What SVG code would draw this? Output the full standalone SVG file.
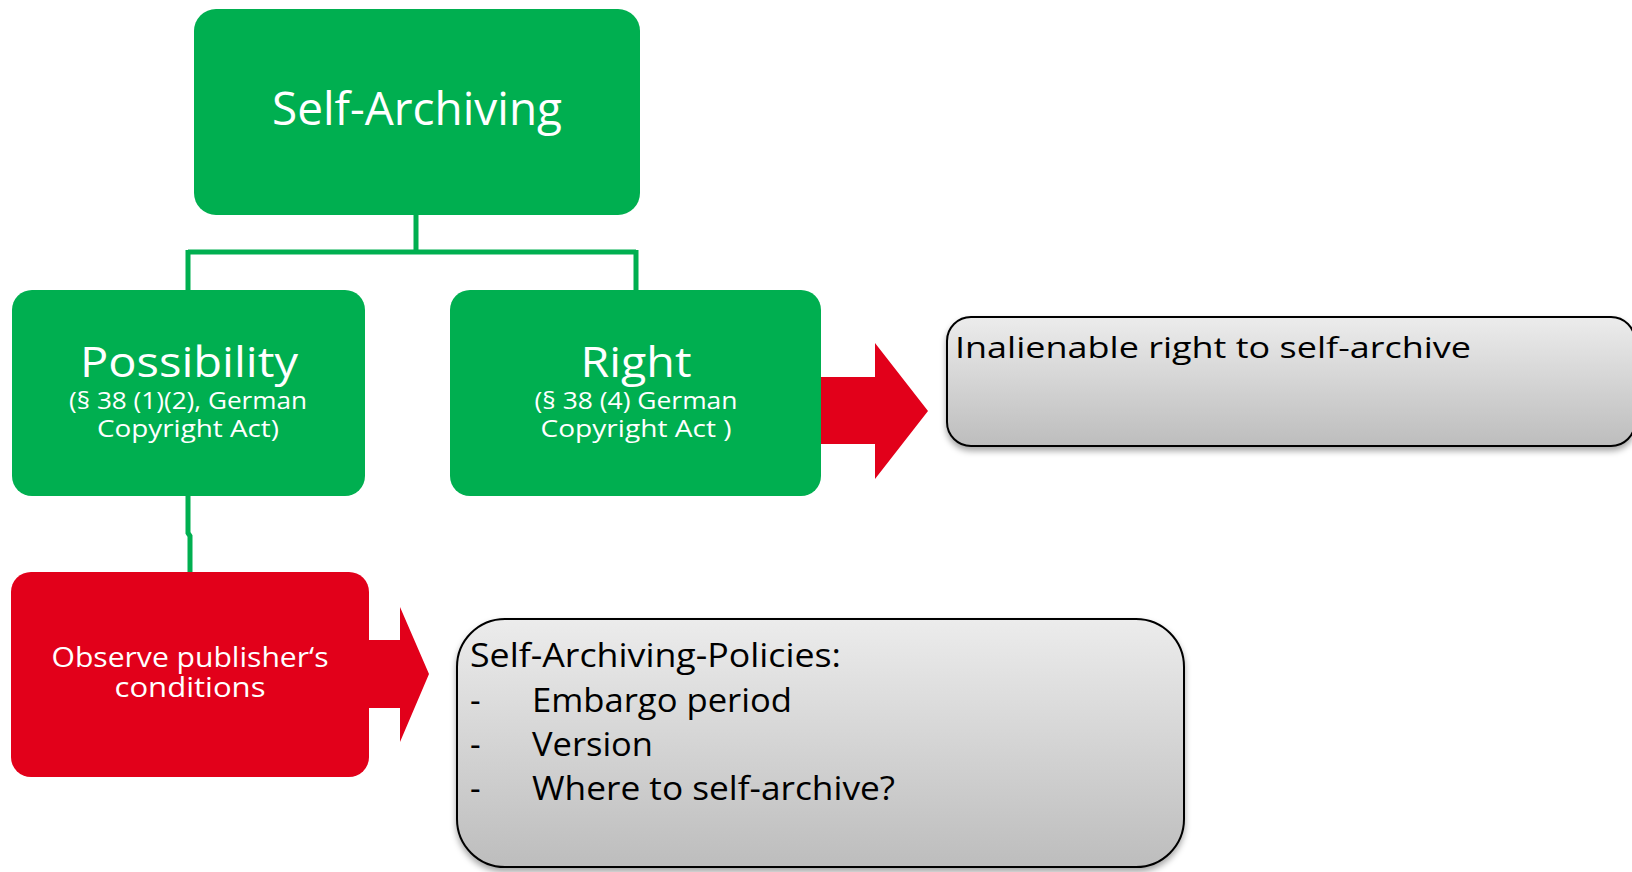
<svg xmlns="http://www.w3.org/2000/svg" width="1632" height="872" viewBox="0 0 1632 872">
<style>
.green{fill:#00AF50}
.red{fill:#E2001A}
.gray{fill:url(#gg);stroke:#000;stroke-width:2}
.conn{fill:none;stroke:#00AF50;stroke-width:5}
text{font-family:"Open Sans","Noto Sans","DejaVu Sans",sans-serif}
.w{fill:#fff}
.b{fill:#000}
</style>
<defs>
<linearGradient id="gg" x1="0" y1="0" x2="0" y2="1">
<stop offset="0" stop-color="#ececec"/>
<stop offset="1" stop-color="#bdbdbd"/>
</linearGradient>
<filter id="sh" x="-5%" y="-10%" width="110%" height="130%">
<feDropShadow dx="0" dy="4" stdDeviation="3" flood-color="#000" flood-opacity="0.35"/>
</filter>
</defs>
<g id="connectors">
<path class="conn" d="M416,215 V252 M188,252 H636 M188,250 V292 M636,250 V292"/>
<path class="conn" d="M188,494 V533 L190,536 V574"/>
<polygon class="red" points="815,377 875,377 875,343 928,411 875,479 875,444 815,444"/>
<polygon class="red" points="362,640 400,640 400,607 429,674 400,742 400,708 362,708"/>
</g>
<g id="self-archiving">
<rect class="green" x="194" y="9" width="446" height="206" rx="22"/>
<text class="w" x="417" y="125" font-size="45" text-anchor="middle" textLength="290" lengthAdjust="spacingAndGlyphs">Self-Archiving</text>
</g>
<g id="possibility">
<rect class="green" x="12" y="290" width="353" height="206" rx="20"/>
<text class="w" x="189" y="377" font-size="42" text-anchor="middle" textLength="218" lengthAdjust="spacingAndGlyphs">Possibility</text>
<text class="w" x="188" y="409" font-size="23" text-anchor="middle" textLength="238" lengthAdjust="spacingAndGlyphs">(§ 38 (1)(2), German</text>
<text class="w" x="188" y="437" font-size="23" text-anchor="middle" textLength="182" lengthAdjust="spacingAndGlyphs">Copyright Act)</text>
</g>
<g id="right">
<rect class="green" x="450" y="290" width="371" height="206" rx="20"/>
<text class="w" x="636" y="377" font-size="42" text-anchor="middle" textLength="111" lengthAdjust="spacingAndGlyphs">Right</text>
<text class="w" x="636" y="409" font-size="23" text-anchor="middle" textLength="203" lengthAdjust="spacingAndGlyphs">(§ 38 (4) German</text>
<text class="w" x="636" y="437" font-size="23" text-anchor="middle" textLength="191" lengthAdjust="spacingAndGlyphs">Copyright Act )</text>
</g>
<g id="inalienable">
<rect class="gray" filter="url(#sh)" x="947" y="317" width="688" height="129" rx="24"/>
<text class="b" x="955" y="358" font-size="30" textLength="516" lengthAdjust="spacingAndGlyphs">Inalienable right to self-archive</text>
</g>
<g id="observe">
<rect class="red" x="11" y="572" width="358" height="205" rx="20"/>
<text class="w" x="190" y="667" font-size="28" text-anchor="middle" textLength="277" lengthAdjust="spacingAndGlyphs">Observe publisher‘s</text>
<text class="w" x="190" y="697" font-size="28" text-anchor="middle" textLength="151" lengthAdjust="spacingAndGlyphs">conditions</text>
</g>
<g id="policies">
<rect class="gray" filter="url(#sh)" x="457" y="619" width="727" height="248" rx="48"/>
<text class="b" x="470" y="667" font-size="33" textLength="371" lengthAdjust="spacingAndGlyphs">Self-Archiving-Policies:</text>
<text class="b" x="470" y="712" font-size="33">-</text>
<text class="b" x="532" y="712" font-size="33" textLength="260" lengthAdjust="spacingAndGlyphs">Embargo period</text>
<text class="b" x="470" y="756" font-size="33">-</text>
<text class="b" x="532" y="756" font-size="33" textLength="121" lengthAdjust="spacingAndGlyphs">Version</text>
<text class="b" x="470" y="800" font-size="33">-</text>
<text class="b" x="532" y="800" font-size="33" textLength="363" lengthAdjust="spacingAndGlyphs">Where to self-archive?</text>
</g>
</svg>
